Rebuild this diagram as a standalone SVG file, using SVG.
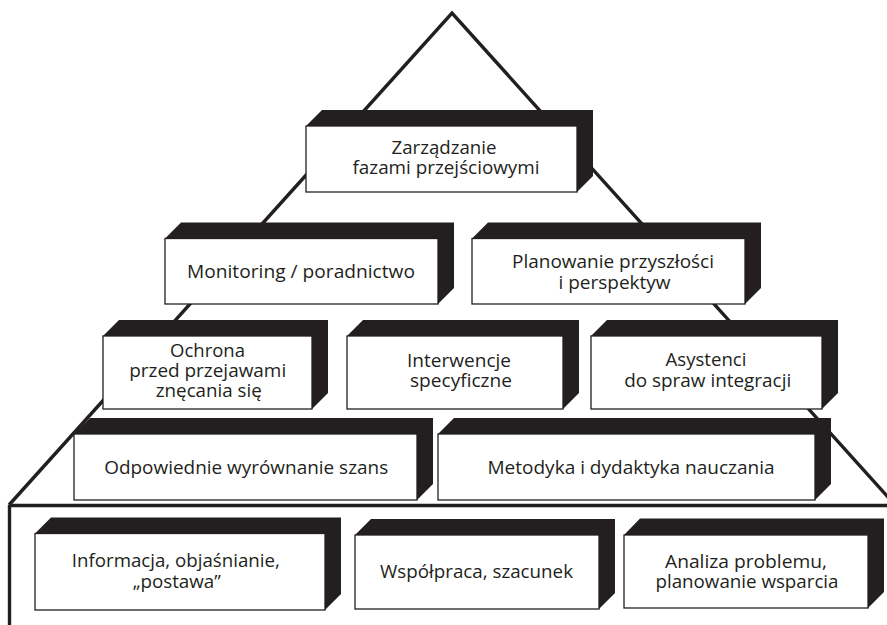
<svg xmlns="http://www.w3.org/2000/svg" width="887" height="625" viewBox="0 0 887 625">
<style>
.edge{fill:none;stroke:#231f20;stroke-width:3.4;stroke-linejoin:miter}
.shadow{fill:#231f20}
.face{fill:#fff;stroke:#231f20;stroke-width:1.3}
.lbl{font-family:"Open Sans","Noto Sans","Liberation Sans",sans-serif;font-size:19px;fill:#231f20;text-anchor:middle}
</style>
<rect width="887" height="625" fill="#fff"/>
<g id="pyramid-outline">
<polyline class="edge" points="9,505 452,13 896,506"/>
<line class="edge" x1="9" y1="505.5" x2="887" y2="505.5"/>
<line class="edge" x1="9.5" y1="505" x2="9.5" y2="625"/>
</g>
<g id="connectors"></g>
<g id="node-zarzadzanie">
<polygon class="shadow" points="306,126 322,110 593,110 593,176 577,192 577,126"/>
<rect class="face" x="306" y="126" width="271" height="66"/>
<text class="lbl" x="444" y="153.5" textLength="105" lengthAdjust="spacingAndGlyphs">Zarządzanie</text>
<text class="lbl" x="446" y="173.5" textLength="187" lengthAdjust="spacingAndGlyphs">fazami przejściowymi</text>
</g>
<g id="node-monitoring">
<polygon class="shadow" points="165,238.5 181,222.5 454,222.5 454,288 438,304 438,238.5"/>
<rect class="face" x="165" y="238.5" width="273" height="65.5"/>
<text class="lbl" x="301" y="278.3" textLength="228" lengthAdjust="spacingAndGlyphs">Monitoring / poradnictwo</text>
</g>
<g id="node-planowanie">
<polygon class="shadow" points="472,238.5 488,222.5 761,222.5 761,288 745,304 745,238.5"/>
<rect class="face" x="472" y="238.5" width="273" height="65.5"/>
<text class="lbl" x="613" y="268.3" textLength="202" lengthAdjust="spacingAndGlyphs">Planowanie przyszłości</text>
<text class="lbl" x="614.5" y="289.3" textLength="112" lengthAdjust="spacingAndGlyphs">i perspektyw</text>
</g>
<g id="node-ochrona">
<polygon class="shadow" points="103,336 119,320 328,320 328,393 312,409 312,336"/>
<rect class="face" x="103" y="336" width="209" height="73"/>
<text class="lbl" x="207.5" y="356.7" textLength="75" lengthAdjust="spacingAndGlyphs">Ochrona</text>
<text class="lbl" x="207.7" y="376.7" textLength="157" lengthAdjust="spacingAndGlyphs">przed przejawami</text>
<text class="lbl" x="208.8" y="397.3" textLength="106" lengthAdjust="spacingAndGlyphs">znęcania się</text>
</g>
<g id="node-interwencje">
<polygon class="shadow" points="347,336 363,320 579,320 579,393 563,409 563,336"/>
<rect class="face" x="347" y="336" width="216" height="73"/>
<text class="lbl" x="459" y="366.7" textLength="104" lengthAdjust="spacingAndGlyphs">Interwencje</text>
<text class="lbl" x="461" y="386.7" textLength="102" lengthAdjust="spacingAndGlyphs">specyficzne</text>
</g>
<g id="node-asystenci">
<polygon class="shadow" points="591,336 607,320 838,320 838,393 822,409 822,336"/>
<rect class="face" x="591" y="336" width="231" height="73"/>
<text class="lbl" x="706" y="366" textLength="81" lengthAdjust="spacingAndGlyphs">Asystenci</text>
<text class="lbl" x="707.7" y="386.7" textLength="167" lengthAdjust="spacingAndGlyphs">do spraw integracji</text>
</g>
<g id="node-odpowiednie">
<polygon class="shadow" points="74,434 90,418 433,418 433,484 417,500 417,434"/>
<rect class="face" x="74" y="434" width="343" height="66"/>
<text class="lbl" x="246.2" y="474" textLength="284" lengthAdjust="spacingAndGlyphs">Odpowiednie wyrównanie szans</text>
</g>
<g id="node-metodyka">
<polygon class="shadow" points="438,434 454,418 831,418 831,484 815,500 815,434"/>
<rect class="face" x="438" y="434" width="377" height="66"/>
<text class="lbl" x="631" y="474" textLength="287" lengthAdjust="spacingAndGlyphs">Metodyka i dydaktyka nauczania</text>
</g>
<g id="node-informacja">
<polygon class="shadow" points="35,533.5 51,517.5 341,517.5 341,594 325,610 325,533.5"/>
<rect class="face" x="35" y="533.5" width="290" height="76.5"/>
<text class="lbl" x="175.8" y="567.3" textLength="208" lengthAdjust="spacingAndGlyphs">Informacja, objaśnianie,</text>
<text class="lbl" x="176.8" y="588.3" textLength="88" lengthAdjust="spacingAndGlyphs">„postawa”</text>
</g>
<g id="node-wspolpraca">
<polygon class="shadow" points="355,535 371,519 615,519 615,593 599,609 599,535"/>
<rect class="face" x="355" y="535" width="244" height="74"/>
<text class="lbl" x="476.5" y="578.3" textLength="193" lengthAdjust="spacingAndGlyphs">Współpraca, szacunek</text>
</g>
<g id="node-analiza">
<polygon class="shadow" points="624,535 640,518.5 884,518.5 884,592 868,608 868,535"/>
<rect class="face" x="624" y="535" width="244" height="73"/>
<text class="lbl" x="746" y="568.3" textLength="162" lengthAdjust="spacingAndGlyphs">Analiza problemu,</text>
<text class="lbl" x="747" y="588.3" textLength="183" lengthAdjust="spacingAndGlyphs">planowanie wsparcia</text>
</g>
</svg>
